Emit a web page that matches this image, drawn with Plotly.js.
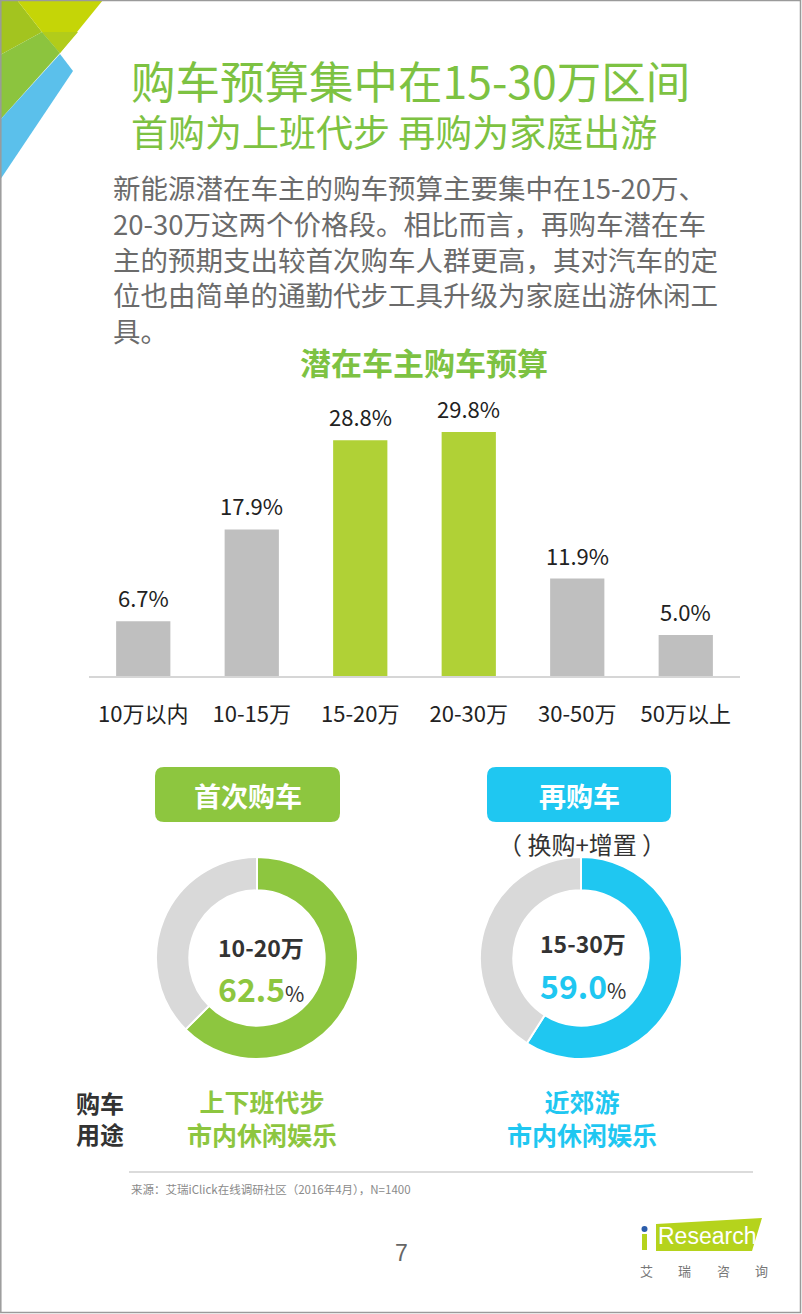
<!DOCTYPE html>
<html>
<head>
<meta charset="utf-8">
<script src="https://cdn.plot.ly/plotly-3.0.1.min.js"></script>
<style>html,body{margin:0;padding:0;background:#fff;}#chart{width:802px;height:1314px;}</style>
</head>
<body>
<div id="chart"></div>
<script>
// ---------- data ----------
const categories = ["10万以内", "10-15万", "15-20万", "20-30万", "30-50万", "50万以上"];
const budgetShare = [6.7, 17.9, 28.8, 29.8, 11.9, 5.0];
const highlighted = [false, false, true, true, false, false];
const valueLabels = ["6.7%", "17.9%", "28.8%", "29.8%", "11.9%", "5.0%"];

const firstBuyLabels = ["10-20万", "其他"];
const firstBuyValues = [62.5, 37.5];
const rebuyLabels = ["15-30万", "其他"];
const rebuyValues = [59.0, 41.0];

const titleLine1 = "购车预算集中在15-30万区间";
const titleLine2 = "首购为上班代步 再购为家庭出游";
const bodyLines = [
  "新能源潜在车主的购车预算主要集中在15-20万、",
  "20-30万这两个价格段。相比而言，再购车潜在车",
  "主的预期支出较首次购车人群更高，其对汽车的定",
  "位也由简单的通勤代步工具升级为家庭出游休闲工",
  "具。"
];
const chartTitle = "潜在车主购车预算";
const sourceText = "来源：艾瑞iClick在线调研社区（2016年4月），N=1400";

// ---------- helpers ----------
const W = 802, H = 1314;
const X = p => p / W;
const Y = p => 1 - p / H;
const CJK = '"Noto Sans CJK SC", "Noto Sans", sans-serif';

const GREEN_T = '#7dc242';
const GREY_T = '#6b6b6b';
const BAR_GREY = '#bfbfbf';
const BAR_GREEN = '#b0d136';
const PIE_GREEN = '#8dc63f';
const PIE_BLUE = '#1fc7f1';
const PIE_GREY = '#d9d9d9';

function ann(text, x, y, size, color, o) {
  o = o || {};
  return Object.assign({
    text: text, xref: 'paper', yref: 'paper', x: X(x), y: Y(y),
    xanchor: 'center', yanchor: 'middle', showarrow: false,
    font: {family: CJK, size: size, color: color}
  }, o);
}
function poly(pts, color) {
  let d = pts.map((p, i) => (i ? 'L' : 'M') + X(p[0]).toFixed(5) + ',' + Y(p[1]).toFixed(5)).join(' ') + ' Z';
  return {type: 'path', xref: 'paper', yref: 'paper', path: d, fillcolor: color, line: {width: 0}, layer: 'above'};
}
function roundRect(x0, y0, x1, y1, r, color) {
  const rx = r / W, ry = r / H;
  const a = X(x0), b = X(x1), t = Y(y0), u = Y(y1);
  const d = `M${a + rx},${t} L${b - rx},${t} Q${b},${t} ${b},${t - ry} L${b},${u + ry} Q${b},${u} ${b - rx},${u} L${a + rx},${u} Q${a},${u} ${a},${u + ry} L${a},${t - ry} Q${a},${t} ${a + rx},${t} Z`;
  return {type: 'path', xref: 'paper', yref: 'paper', path: d, fillcolor: color, line: {width: 0}, layer: 'below'};
}

// ---------- traces ----------
const barTrace = {
  type: 'bar', x: categories, y: budgetShare,
  marker: {color: highlighted.map(h => h ? BAR_GREEN : BAR_GREY)},
  hoverinfo: 'skip', xaxis: 'x', yaxis: 'y'
};
const pie1 = {
  type: 'pie', labels: firstBuyLabels, values: firstBuyValues, sort: false,
  direction: 'clockwise', rotation: 0, hole: 0.67, textinfo: 'none', hoverinfo: 'skip',
  marker: {colors: [PIE_GREEN, PIE_GREY], line: {color: '#ffffff', width: 2}},
  domain: {x: [X(156), X(358)], y: [Y(1059), Y(857)]}
};
const pie2 = {
  type: 'pie', labels: rebuyLabels, values: rebuyValues, sort: false,
  direction: 'clockwise', rotation: 0, hole: 0.67, textinfo: 'none', hoverinfo: 'skip',
  marker: {colors: [PIE_BLUE, PIE_GREY], line: {color: '#ffffff', width: 2}},
  domain: {x: [X(480), X(682)], y: [Y(1059), Y(857)]}
};

// ---------- annotations ----------
const annotations = [];
annotations.push(ann('<span style="font-size:44.5px">' + titleLine1 + '</span><br>' + titleLine2,
  129, 103, 37, GREEN_T, {xanchor: 'left', align: 'left'}));
annotations.push(ann(bodyLines.join('<br>'), 111, 258, 27.5, GREY_T, {xanchor: 'left', align: 'left'}));
annotations.push(ann('<b>' + chartTitle + '</b>', 424, 361, 31, GREEN_T));

categories.forEach((c, i) => annotations.push({
  text: valueLabels[i], xref: 'x', yref: 'y', x: c, y: budgetShare[i],
  xanchor: 'center', yanchor: 'bottom', yshift: 6, showarrow: false,
  font: {family: CJK, size: 22, color: '#222222'}
}));

// header boxes text
annotations.push(ann('<b>首次购车</b>', 248, 795, 27, '#ffffff'));
annotations.push(ann('<b>再购车</b>', 579, 795, 27, '#ffffff'));
annotations.push(ann('（ 换购+增置 ）', 582, 843, 24, '#333333'));

// donut centers
annotations.push(ann('<b>' + firstBuyLabels[0] + '</b>', 261, 947, 23, '#333333'));
annotations.push(ann('<b>' + firstBuyValues[0].toFixed(1) + '</b><span style="font-size:21px;color:#333333">%</span>', 261, 988, 32, PIE_GREEN));
annotations.push(ann('<b>' + rebuyLabels[0] + '</b>', 583, 943, 23, '#333333'));
annotations.push(ann('<b>' + rebuyValues[0].toFixed(1) + '</b><span style="font-size:21px;color:#333333">%</span>', 583, 985, 32, PIE_BLUE));

// usage labels
annotations.push(ann('<b>购车<br>用途</b>', 100, 1117.5, 24, '#333333', {}));
annotations.push(ann('<b>上下班代步<br>市内休闲娱乐</b>', 262, 1117.5, 25, PIE_GREEN));
annotations.push(ann('<b>近郊游<br>市内休闲娱乐</b>', 582, 1117.5, 25, PIE_BLUE));

// footer
annotations.push(ann(sourceText, 129, 1189, 11.5, '#8a8a8a', {xanchor: 'left'}));
annotations.push(ann('7', 401, 1253, 22, '#666666', {font: {family: 'Liberation Sans, sans-serif', size: 23, color: '#666666'}}));
annotations.push(ann('Research', 707, 1236, 21, '#ffffff', {font: {family: '"Liberation Sans Narrow", "Liberation Sans", sans-serif', size: 23, color: '#ffffff'}}));
['艾', '瑞', '咨', '询'].forEach((ch, i) => annotations.push(ann(ch, 646 + i * 38.5, 1270, 13, '#777777')));

// ---------- shapes ----------
const shapes = [
  // corner decoration
  poly([[0, 0], [17, 0], [42, 32], [0, 55]], '#a3c41f'),
  poly([[17, 0], [103, 0], [60, 53], [42, 32]], '#c5d507'),
  poly([[42, 32], [78, 32], [60, 53]], '#b2cc1a'),
  poly([[0, 55], [42, 32], [60, 53], [0, 120]], '#8cc43e'),
  poly([[60, 54], [73, 71], [0, 180], [0, 120]], '#5bc0eb'),
  // header boxes
  roundRect(155, 767, 340, 822, 9, PIE_GREEN),
  roundRect(487, 767, 671, 822, 9, PIE_BLUE),
  // footer rule
  {type: 'line', xref: 'paper', yref: 'paper', x0: X(129), x1: X(753), y0: Y(1172), y1: Y(1172), line: {color: '#cfcfcf', width: 1.5}},
  // logo
  poly([[656, 1224], [762, 1218], [752, 1251], [656, 1251]], '#b5d31c'),
  {type: 'rect', xref: 'paper', yref: 'paper', x0: X(642), x1: X(647), y0: Y(1250), y1: Y(1234), fillcolor: '#b5d31c', line: {width: 0}},
  {type: 'circle', xref: 'paper', yref: 'paper', x0: X(641.5), x1: X(647.5), y0: Y(1232), y1: Y(1226), fillcolor: '#2a5caa', line: {width: 0}},
  // page border
  {type: 'rect', xref: 'paper', yref: 'paper', x0: X(0.8), x1: X(800.5), y0: Y(1312.5), y1: Y(0.5), line: {color: '#9a9a9a', width: 1.5}, layer: 'above'}
];

const layout = {
  width: W, height: H, margin: {l: 0, r: 0, t: 0, b: 0, pad: 0},
  paper_bgcolor: '#ffffff', plot_bgcolor: 'rgba(0,0,0,0)', showlegend: false,
  bargap: 0.5,
  xaxis: {
    domain: [X(89), X(740)], type: 'category', showgrid: false, zeroline: false,
    showline: true, linecolor: '#d6d6d6', linewidth: 1.5,
    ticks: '', ticklabelstandoff: 18,
    tickfont: {family: CJK, size: 22, color: '#222222'}, fixedrange: true
  },
  yaxis: {
    domain: [Y(676), Y(400)], range: [0, 276 / 8.19], showgrid: false, zeroline: false,
    showline: false, showticklabels: false, ticks: '', fixedrange: true
  },
  annotations: annotations,
  shapes: shapes
};

Plotly.newPlot('chart', [barTrace, pie1, pie2], layout, {displayModeBar: false, staticPlot: true});
</script>
</body>
</html>
